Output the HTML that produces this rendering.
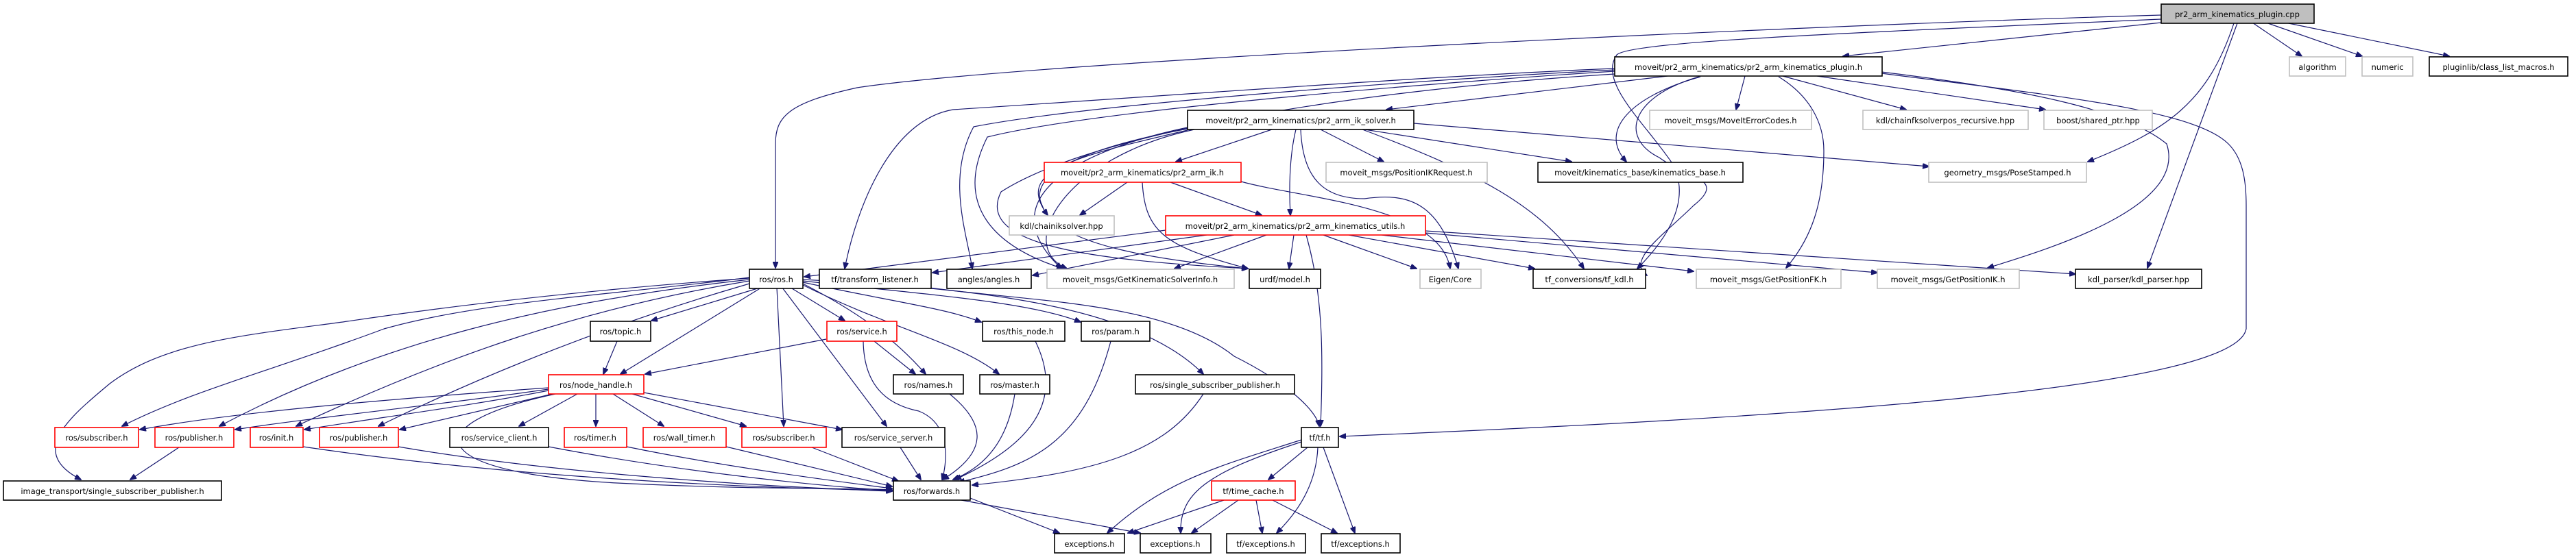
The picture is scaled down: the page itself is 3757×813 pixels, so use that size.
<!DOCTYPE html>
<html><head><meta charset="utf-8"><style>
html,body{margin:0;padding:0;background:#fff;}
svg{display:block}
text{font-family:"DejaVu Sans","Liberation Sans",sans-serif;font-size:11.5px;fill:#000;text-anchor:middle;}
.k rect{fill:#fff;stroke:#000;stroke-width:1.6}
.g rect{fill:#fff;stroke:#bfbfbf;stroke-width:1.6}
.r rect{fill:#fff;stroke:#ff0000;stroke-width:1.6}
.e path{fill:none;stroke:#191970;stroke-width:1.2}
</style></head><body>
<svg width="3757" height="813" viewBox="0 0 3757 813" xmlns="http://www.w3.org/2000/svg">
<defs><marker id="a" markerWidth="10" markerHeight="8" refX="9" refY="4" orient="auto" markerUnits="userSpaceOnUse"><path d="M0,0 L10,4 L0,8 z" fill="#191970" stroke="#191970"/></marker></defs>
<g class="e">
<!-- from cpp -->
<path d="M3152,33 L2688,82" marker-end="url(#a)"/>
<path d="M3152,22 C2600,38 1500,90 1250,128 C1150,150 1131,170 1131,210 L1131,391" marker-end="url(#a)"/>
<path d="M3152,28 C2700,48 2380,60 2358,80 C2330,120 2400,180 2440,240 C2470,300 2420,360 2388,392" marker-end="url(#a)"/>
<path d="M3258,34 C3220,150 3160,190 3045,236" marker-end="url(#a)"/>
<path d="M3263,34 L3132,391" marker-end="url(#a)"/>
<path d="M3285,33 L3357,82" marker-end="url(#a)"/>
<path d="M3305,33 L3445,82" marker-end="url(#a)"/>
<path d="M3333,33 L3572,82" marker-end="url(#a)"/>
<!-- from plugin.h -->
<path d="M2432,111 L2022,160" marker-end="url(#a)"/>
<path d="M2545,111 L2532,160" marker-end="url(#a)"/>
<path d="M2600,111 L2780,160" marker-end="url(#a)"/>
<path d="M2650,111 L2983,160" marker-end="url(#a)"/>
<path d="M2480,112 C2380,140 2330,190 2372,236" marker-end="url(#a)"/>
<path d="M2594,112 C2640,140 2660,180 2660,220 C2660,300 2640,350 2605,391" marker-end="url(#a)"/>
<path d="M2744,105 C2950,130 3100,160 3160,210 C3190,300 3000,360 2899,391" marker-end="url(#a)"/>
<path d="M2744,107 C3000,140 3200,160 3250,210 C3270,230 3276,260 3276,300 L3276,480 C3260,570 2600,610 1954,637" marker-end="url(#a)"/>
<path d="M2355,100 C2100,110 1700,140 1390,160 C1300,175 1250,300 1232,392" marker-end="url(#a)"/>
<path d="M2355,102 C2100,115 1600,150 1420,185 C1380,260 1410,340 1418,392" marker-end="url(#a)"/>
<path d="M2355,104 C2100,120 1600,160 1440,200 C1390,300 1450,360 1550,392" marker-end="url(#a)"/>
<path d="M2355,108 C2000,130 1600,190 1460,280 C1420,360 1600,380 1820,392" marker-end="url(#a)"/>
<path d="M2478,112 C2380,140 2360,200 2420,230 C2460,260 2520,260 2470,300 C2430,340 2370,380 2402,402" marker-end="url(#a)"/>
<!-- from ik_solver -->
<path d="M1855,189 L1715,236" marker-end="url(#a)"/>
<path d="M1926,189 L2018,236" marker-end="url(#a)"/>
<path d="M1990,189 L2292,236" marker-end="url(#a)"/>
<path d="M2062,180 L2813,243" marker-end="url(#a)"/>
<path d="M1890,189 C1880,230 1880,280 1882,314" marker-end="url(#a)"/>
<path d="M1897,189 C1900,260 1930,290 1990,290 C2060,280 2100,300 2127,392" marker-end="url(#a)"/>
<path d="M1987,189 C2150,250 2250,300 2310,392" marker-end="url(#a)"/>
<path d="M1732,190 C1560,230 1480,250 1528,314" marker-end="url(#a)"/>
<path d="M1732,186 C1570,220 1440,290 1548,392" marker-end="url(#a)"/>
<path d="M1742,189 C1550,230 1480,360 1556,392" marker-end="url(#a)"/>
<path d="M1732,188 C1560,220 1500,260 1520,300 C1540,360 1700,380 1820,392" marker-end="url(#a)"/>
<!-- pr2_arm_ik -->
<path d="M1644,266 L1575,314" marker-end="url(#a)"/>
<path d="M1707,266 L1840,314" marker-end="url(#a)"/>
<path d="M1666,266 C1670,340 1700,360 1820,392" marker-end="url(#a)"/>
<path d="M1810,265 C1900,290 2100,300 2115,392" marker-end="url(#a)"/>
<!-- kinematics_utils -->
<path d="M1700,336 L1173,404" marker-end="url(#a)"/>
<path d="M1760,343 L1360,398" marker-end="url(#a)"/>
<path d="M1800,343 L1506,402" marker-end="url(#a)"/>
<path d="M1847,343 L1713,392" marker-end="url(#a)"/>
<path d="M1887,343 L1880,392" marker-end="url(#a)"/>
<path d="M1905,343 C1930,430 1930,520 1926,622" marker-end="url(#a)"/>
<path d="M1930,343 L2066,392" marker-end="url(#a)"/>
<path d="M1967,343 L2238,392" marker-end="url(#a)"/>
<path d="M2015,343 L2470,396" marker-end="url(#a)"/>
<path d="M2079,340 L2738,398" marker-end="url(#a)"/>
<path d="M2079,337 L3027,400" marker-end="url(#a)"/>
<!-- ros.h -->
<path d="M1108,420 L950,468" marker-end="url(#a)"/>
<path d="M1110,420 L905,546" marker-end="url(#a)"/>
<path d="M1155,421 L1232,468" marker-end="url(#a)"/>
<path d="M1093,405 C900,430 700,440 560,480 C400,540 280,570 178,622" marker-end="url(#a)"/>
<path d="M1093,408 C800,440 550,500 320,622" marker-end="url(#a)"/>
<path d="M1093,410 C850,450 650,520 432,622" marker-end="url(#a)"/>
<path d="M1093,414 C900,470 720,540 552,622" marker-end="url(#a)"/>
<path d="M1093,406 C900,420 700,440 500,470 C350,490 240,500 160,560 C100,610 40,660 118,700" marker-end="url(#a)"/>
<path d="M1133,420 L1143,622" marker-end="url(#a)"/>
<path d="M1141,420 L1293,622" marker-end="url(#a)"/>
<path d="M1171,414 C1260,460 1310,500 1350,546" marker-end="url(#a)"/>
<path d="M1171,416 C1300,480 1400,500 1457,546" marker-end="url(#a)"/>
<path d="M1171,412 C1300,440 1380,450 1431,470" marker-end="url(#a)"/>
<path d="M1171,410 C1350,430 1500,440 1576,470" marker-end="url(#a)"/>
<path d="M1171,408 C1400,420 1650,440 1755,546" marker-end="url(#a)"/>
<path d="M1356,420 C1500,440 1700,440 1800,520 C1880,560 1920,600 1924,622" marker-end="url(#a)"/>
<!-- service, topic -->
<path d="M1205,495 L941,546" marker-end="url(#a)"/>
<path d="M1275,498 L1335,546" marker-end="url(#a)"/>
<path d="M1259,498 C1260,560 1290,590 1340,600 C1390,620 1380,680 1374,700" marker-end="url(#a)"/>
<path d="M900,498 L880,546" marker-end="url(#a)"/>
<!-- node_handle -->
<path d="M800,566 C600,580 350,600 204,627" marker-end="url(#a)"/>
<path d="M800,568 C650,590 450,610 343,627" marker-end="url(#a)"/>
<path d="M800,570 C700,590 550,610 444,627" marker-end="url(#a)"/>
<path d="M806,575 L583,627" marker-end="url(#a)"/>
<path d="M842,575 L757,622" marker-end="url(#a)"/>
<path d="M869,575 L869,622" marker-end="url(#a)"/>
<path d="M894,575 L968,622" marker-end="url(#a)"/>
<path d="M922,575 L1088,622" marker-end="url(#a)"/>
<path d="M939,573 L1228,627" marker-end="url(#a)"/>
<path d="M810,575 C600,620 620,690 900,705 C1100,715 1250,712 1301,715" marker-end="url(#a)"/>
<!-- to forwards -->
<path d="M442,652 C700,690 1000,710 1301,716" marker-end="url(#a)"/>
<path d="M581,652 C800,690 1100,710 1301,717" marker-end="url(#a)"/>
<path d="M800,652 C1000,690 1200,710 1301,716" marker-end="url(#a)"/>
<path d="M914,652 C1050,680 1200,700 1301,713" marker-end="url(#a)"/>
<path d="M1059,652 L1301,710" marker-end="url(#a)"/>
<path d="M1184,653 L1310,702" marker-end="url(#a)"/>
<path d="M1313,653 L1343,700" marker-end="url(#a)"/>
<path d="M261,653 L190,700" marker-end="url(#a)"/>
<path d="M1385,575 C1440,620 1440,660 1375,700" marker-end="url(#a)"/>
<path d="M1480,575 C1470,640 1440,680 1390,700" marker-end="url(#a)"/>
<path d="M1510,498 C1560,600 1480,660 1393,700" marker-end="url(#a)"/>
<path d="M1620,498 C1580,650 1500,680 1398,704" marker-end="url(#a)"/>
<path d="M1755,575 C1700,660 1600,690 1418,708" marker-end="url(#a)"/>
<path d="M1415,727 L1545,778" marker-end="url(#a)"/>
<path d="M1402,730 L1663,778" marker-end="url(#a)"/>
<!-- tf.h -->
<path d="M1898,642 C1780,680 1700,700 1615,778" marker-end="url(#a)"/>
<path d="M1898,645 C1760,690 1720,720 1722,778" marker-end="url(#a)"/>
<path d="M1907,653 L1850,700" marker-end="url(#a)"/>
<path d="M1922,653 C1920,700 1900,740 1862,778" marker-end="url(#a)"/>
<path d="M1930,653 L1976,778" marker-end="url(#a)"/>
<path d="M1785,730 L1645,778" marker-end="url(#a)"/>
<path d="M1806,730 L1738,778" marker-end="url(#a)"/>
<path d="M1832,730 L1841,778" marker-end="url(#a)"/>
<path d="M1856,730 L1950,778" marker-end="url(#a)"/>
</g>
<!-- nodes -->
<g class="k"><rect x="3152" y="6" width="223" height="28" style="fill:#bfbfbf"/></g><text x="3263" y="25">pr2_arm_kinematics_plugin.cpp</text>
<g class="k"><rect x="2355" y="83" width="390" height="28"/></g><text x="2550" y="102">moveit/pr2_arm_kinematics/pr2_arm_kinematics_plugin.h</text>
<g class="g"><rect x="3339" y="83" width="82" height="28"/></g><text x="3380" y="102">algorithm</text>
<g class="g"><rect x="3445" y="83" width="74" height="28"/></g><text x="3482" y="102">numeric</text>
<g class="k"><rect x="3543" y="83" width="202" height="28"/></g><text x="3644" y="102">pluginlib/class_list_macros.h</text>
<g class="g"><rect x="2406" y="161" width="236" height="28"/></g><text x="2524" y="180">moveit_msgs/MoveItErrorCodes.h</text>
<g class="g"><rect x="2717" y="161" width="241" height="28"/></g><text x="2837" y="180">kdl/chainfksolverpos_recursive.hpp</text>
<g class="g"><rect x="2981" y="161" width="158" height="28"/></g><text x="3060" y="180">boost/shared_ptr.hpp</text>
<g class="k"><rect x="1732" y="161" width="330" height="28"/></g><text x="1897" y="180">moveit/pr2_arm_kinematics/pr2_arm_ik_solver.h</text>
<g class="r"><rect x="1523" y="237" width="287" height="29"/></g><text x="1666" y="256">moveit/pr2_arm_kinematics/pr2_arm_ik.h</text>
<g class="g"><rect x="1934" y="237" width="235" height="29"/></g><text x="2051" y="256">moveit_msgs/PositionIKRequest.h</text>
<g class="k"><rect x="2243" y="237" width="299" height="29"/></g><text x="2392" y="256">moveit/kinematics_base/kinematics_base.h</text>
<g class="g"><rect x="2813" y="237" width="230" height="29"/></g><text x="2928" y="256">geometry_msgs/PoseStamped.h</text>
<g class="g"><rect x="1472" y="315" width="153" height="28"/></g><text x="1548" y="334">kdl/chainiksolver.hpp</text>
<g class="r"><rect x="1700" y="315" width="379" height="28"/></g><text x="1889" y="334">moveit/pr2_arm_kinematics/pr2_arm_kinematics_utils.h</text>
<g class="k"><rect x="1093" y="393" width="78" height="28"/></g><text x="1132" y="412">ros/ros.h</text>
<g class="k"><rect x="1195" y="393" width="163" height="28"/></g><text x="1276" y="412">tf/transform_listener.h</text>
<g class="k"><rect x="1381" y="393" width="123" height="28"/></g><text x="1442" y="412">angles/angles.h</text>
<g class="g"><rect x="1527" y="393" width="273" height="28"/></g><text x="1663" y="412">moveit_msgs/GetKinematicSolverInfo.h</text>
<g class="k"><rect x="1822" y="393" width="104" height="28"/></g><text x="1874" y="412">urdf/model.h</text>
<g class="g"><rect x="2071" y="393" width="89" height="28"/></g><text x="2115" y="412">Eigen/Core</text>
<g class="k"><rect x="2236" y="393" width="164" height="28"/></g><text x="2318" y="412">tf_conversions/tf_kdl.h</text>
<g class="g"><rect x="2474" y="393" width="211" height="28"/></g><text x="2579" y="412">moveit_msgs/GetPositionFK.h</text>
<g class="g"><rect x="2738" y="393" width="207" height="28"/></g><text x="2841" y="412">moveit_msgs/GetPositionIK.h</text>
<g class="k"><rect x="3027" y="393" width="184" height="28"/></g><text x="3119" y="412">kdl_parser/kdl_parser.hpp</text>
<g class="k"><rect x="861" y="469" width="88" height="29"/></g><text x="905" y="488">ros/topic.h</text>
<g class="r"><rect x="1206" y="469" width="102" height="29"/></g><text x="1257" y="488">ros/service.h</text>
<g class="k"><rect x="1433" y="469" width="120" height="29"/></g><text x="1493" y="488">ros/this_node.h</text>
<g class="k"><rect x="1577" y="469" width="100" height="29"/></g><text x="1627" y="488">ros/param.h</text>
<g class="r"><rect x="800" y="547" width="139" height="28"/></g><text x="869" y="566">ros/node_handle.h</text>
<g class="k"><rect x="1303" y="547" width="102" height="28"/></g><text x="1354" y="566">ros/names.h</text>
<g class="k"><rect x="1429" y="547" width="102" height="28"/></g><text x="1480" y="566">ros/master.h</text>
<g class="k"><rect x="1656" y="547" width="232" height="28"/></g><text x="1772" y="566">ros/single_subscriber_publisher.h</text>
<g class="r"><rect x="80" y="624" width="122" height="29"/></g><text x="141" y="643">ros/subscriber.h</text>
<g class="r"><rect x="226" y="624" width="115" height="29"/></g><text x="283" y="643">ros/publisher.h</text>
<g class="r"><rect x="365" y="624" width="77" height="29"/></g><text x="403" y="643">ros/init.h</text>
<g class="r"><rect x="466" y="624" width="115" height="29"/></g><text x="523" y="643">ros/publisher.h</text>
<g class="k"><rect x="656" y="624" width="144" height="29"/></g><text x="728" y="643">ros/service_client.h</text>
<g class="r"><rect x="823" y="624" width="91" height="29"/></g><text x="868" y="643">ros/timer.h</text>
<g class="r"><rect x="938" y="624" width="121" height="29"/></g><text x="998" y="643">ros/wall_timer.h</text>
<g class="r"><rect x="1082" y="624" width="123" height="29"/></g><text x="1143" y="643">ros/subscriber.h</text>
<g class="k"><rect x="1228" y="624" width="150" height="29"/></g><text x="1303" y="643">ros/service_server.h</text>
<g class="k"><rect x="1898" y="624" width="54" height="29"/></g><text x="1925" y="643">tf/tf.h</text>
<g class="k"><rect x="5" y="702" width="318" height="28"/></g><text x="164" y="721">image_transport/single_subscriber_publisher.h</text>
<g class="k"><rect x="1303" y="702" width="112" height="28"/></g><text x="1359" y="721">ros/forwards.h</text>
<g class="r"><rect x="1767" y="702" width="122" height="28"/></g><text x="1828" y="721">tf/time_cache.h</text>
<g class="k"><rect x="1538" y="779" width="102" height="28"/></g><text x="1589" y="798">exceptions.h</text>
<g class="k"><rect x="1663" y="779" width="103" height="28"/></g><text x="1714" y="798">exceptions.h</text>
<g class="k"><rect x="1789" y="779" width="115" height="28"/></g><text x="1846" y="798">tf/exceptions.h</text>
<g class="k"><rect x="1927" y="779" width="115" height="28"/></g><text x="1984" y="798">tf/exceptions.h</text>
</svg>
</body></html>
